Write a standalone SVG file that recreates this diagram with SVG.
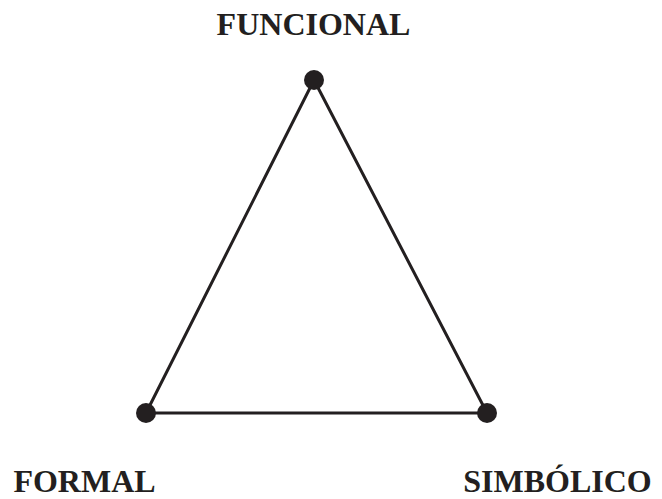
<svg xmlns="http://www.w3.org/2000/svg" width="662" height="499" viewBox="0 0 662 499">
<style>
.lbl{font-family:"Liberation Serif","Times New Roman",serif;font-weight:bold;font-size:32px;fill:#231f20}
.edge{stroke:#231f20;stroke-width:3;fill:none;stroke-linejoin:round}
.dot{fill:#231f20}
</style>
<rect width="662" height="499" fill="#ffffff"/>
<g id="connectors">
<path class="edge" d="M314 80 L146 413 L487 413 Z"/>
</g>
<g id="funcional">
<circle class="dot" cx="314" cy="80" r="10"/>
<text class="lbl" x="313.5" y="35" text-anchor="middle">FUNCIONAL</text>
</g>
<g id="formal">
<circle class="dot" cx="146" cy="413" r="10"/>
<text class="lbl" x="84.5" y="492" text-anchor="middle">FORMAL</text>
</g>
<g id="simbolico">
<circle class="dot" cx="487" cy="413" r="10"/>
<text class="lbl" x="557.5" y="492" text-anchor="middle">SIMBÓLICO</text>
</g>
</svg>
